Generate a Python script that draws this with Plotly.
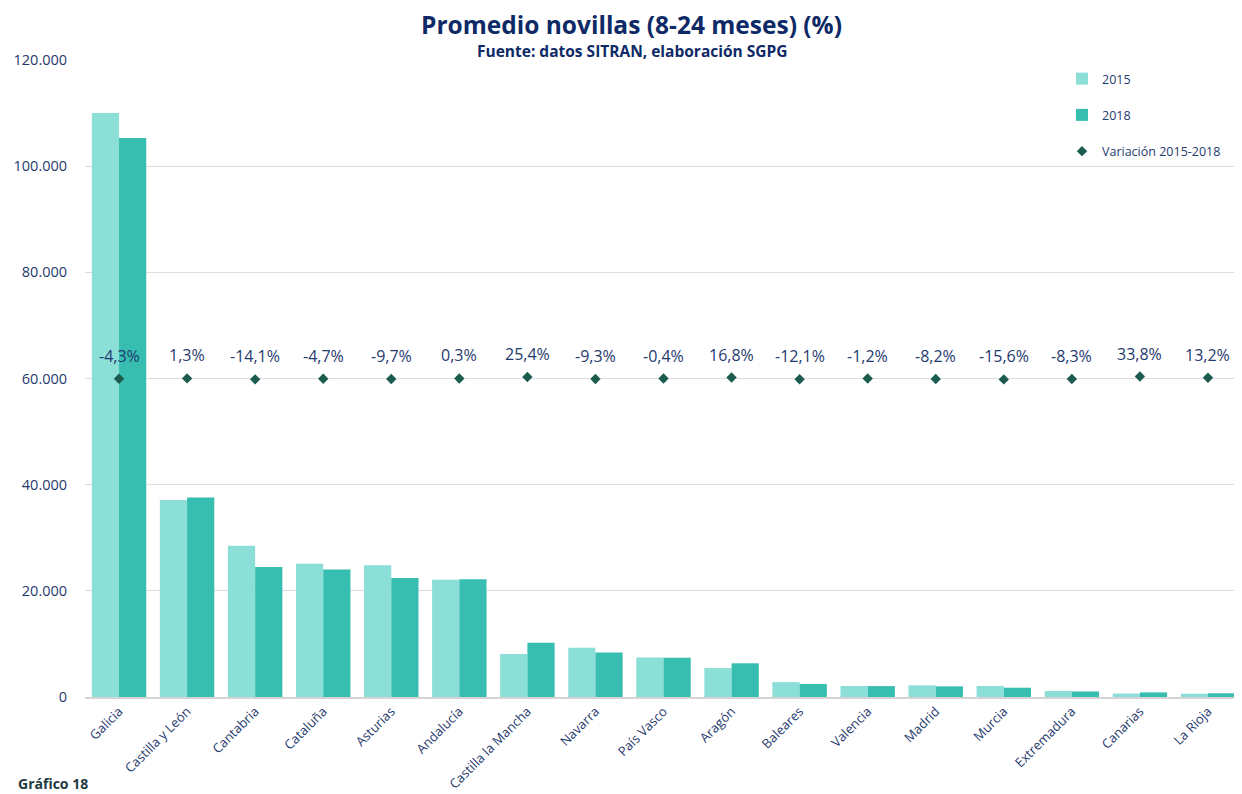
import plotly.graph_objects as go

regions = ["Galicia", "Castilla y León", "Cantabria", "Cataluña", "Asturias", "Andalucía",
           "Castilla la Mancha", "Navarra", "País Vasco", "Aragón", "Baleares", "Valencia",
           "Madrid", "Murcia", "Extremadura", "Canarias", "La Rioja"]
v2015 = [110000, 37100, 28500, 25100, 24800, 22100, 8100, 9300, 7450, 5450, 2800, 2080,
         2200, 2080, 1130, 650, 620]
v2018 = [105300, 37600, 24500, 24000, 22400, 22200, 10200, 8400, 7400, 6350, 2450, 2050,
         2000, 1750, 1040, 870, 700]
variation = [-0.043, 0.013, -0.141, -0.047, -0.097, 0.003, 0.254, -0.093, -0.004, 0.168,
             -0.121, -0.012, -0.082, -0.156, -0.083, 0.338, 0.132]
var_labels = ["-4,3%", "1,3%", "-14,1%", "-4,7%", "-9,7%", "0,3%", "25,4%", "-9,3%", "-0,4%",
              "16,8%", "-12,1%", "-1,2%", "-8,2%", "-15,6%", "-8,3%", "33,8%", "13,2%"]
y_ticks = [0, 20000, 40000, 60000, 80000, 100000, 120000]

NAVY = "#1F3A6E"
FONT = "Open Sans"

# the page body adds an 8px margin, so the figure is 8px smaller and all
# pixel targets (taken from the 1242x794 screen) are shifted by 8px
OFF = 8
W, H = 1242 - OFF, 794 - OFF
L, R, T, B = 85 - OFF, 0, 60 - OFF, 97
pw, ph = W - L - R, H - T - B


def px(xs):
    return (xs - OFF - L) / pw


def py(ys):
    return (H - B - (ys - OFF)) / ph


fig = go.Figure()
fig.add_trace(go.Bar(x=regions, y=v2015, name="2015", marker_color="#8BDFD7",
                     marker_line_width=0, legendgroup="a"))
fig.add_trace(go.Bar(x=regions, y=v2018, name="2018", marker_color="#37BEB1",
                     marker_line_width=0, legendgroup="b"))
fig.add_trace(go.Scatter(x=regions, y=variation, name="Variación 2015-2018", mode="markers",
                         marker=dict(symbol="diamond", size=8, color="#1B5C4F"),
                         yaxis="y2", legendgroup="c"))

for r, v, lab in zip(regions, variation, var_labels):
    fig.add_annotation(x=r, y=v, yref="y2", text=lab, showarrow=False, yshift=23,
                       font=dict(family=FONT, size=16, color=NAVY))

fig.add_annotation(x=px(631), xref="paper", y=py(24), yref="paper", yanchor="middle",
                   text="<b>Promedio novillas (8-24 meses) (%)</b>", showarrow=False,
                   borderpad=0, font=dict(family=FONT, size=24.5, color="#0E2A66"))
fig.add_annotation(x=px(632), xref="paper", y=py(51), yref="paper", yanchor="middle",
                   text="<b>Fuente: datos SITRAN, elaboración SGPG</b>", showarrow=False,
                   borderpad=0, font=dict(family=FONT, size=15.5, color="#0E2A66"))
fig.add_annotation(x=px(17), xref="paper", xanchor="left", y=py(784), yref="paper",
                   yanchor="middle", showarrow=False, borderpad=0,
                   text="<b>Gráfico 18</b>", font=dict(family=FONT, size=14, color="#1E3A40"))

fig.update_layout(
    width=W, height=H,
    margin=dict(l=L, r=R, t=T, b=B, autoexpand=False),
    paper_bgcolor="white", plot_bgcolor="white",
    separators=",.",
    barmode="group", bargap=0.2, bargroupgap=0,
    font=dict(family=FONT, color=NAVY),
    showlegend=True,
    legend=dict(x=px(1062), y=py(64), xanchor="left", yanchor="top",
                font=dict(family=FONT, size=12.5, color=NAVY),
                tracegroupgap=17, bgcolor="rgba(0,0,0,0)", itemwidth=30),
    xaxis=dict(range=[-0.5, len(regions) - 0.5], autorange=False,
               tickangle=-45, tickfont=dict(family=FONT, size=13, color=NAVY),
               showline=True, linecolor="#D4D4D4", linewidth=1.5, showgrid=False,
               ticks="", automargin=False),
    yaxis=dict(range=[0, 120000], tickvals=y_ticks, tickformat=",d",
               tickfont=dict(family=FONT, size=14.5, color=NAVY),
               showgrid=True, gridcolor="#DCDCE6", gridwidth=1, zeroline=False,
               ticks="outside", ticklen=14, tickcolor="rgba(0,0,0,0)", automargin=False),
    yaxis2=dict(range=[-54, 54], overlaying="y", side="right", visible=False),
)

fig.write_html("out.html")
